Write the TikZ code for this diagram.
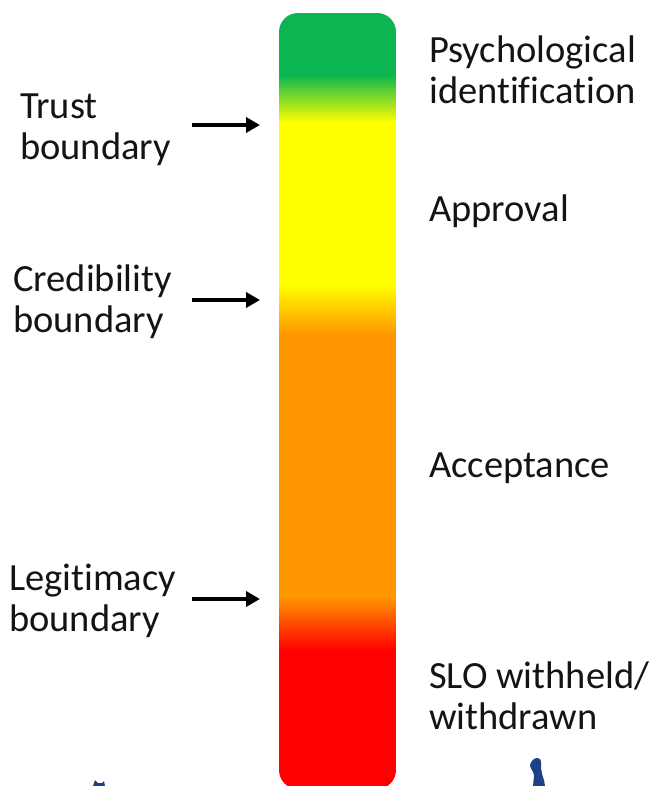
\documentclass[tikz,border=0pt]{standalone}
\usepackage{fontspec}
\setmainfont[Ligatures=NoCommon]{Carlito}
\usetikzlibrary{arrows.meta}
\definecolor{cgreen}{HTML}{0BB650}
\definecolor{cyellow}{HTML}{FFFF00}
\definecolor{corange}{HTML}{FF9600}
\definecolor{cred}{HTML}{FF0000}
\definecolor{cblue}{HTML}{1F3F86}
\tikzset{
  lbl/.style={font=\fontsize{38.5}{41}\selectfont,text=black!92,align=left,anchor=west,inner sep=0pt},
  boundarrow/.style={line width=4pt,-{Triangle[length=14pt,width=15pt]},black},
}
\begin{document}
\begin{tikzpicture}[x=1pt,y=-1pt]
\useasboundingbox (0,0) rectangle (654,786);
\begin{scope}
\clip[rounded corners=19pt] (279,13) rectangle (396,789);
\fill[cgreen] (279,13) rectangle (396,75);
\shade[top color=cgreen,bottom color=cyellow] (279,74.5) rectangle (396,122.5);
\fill[cyellow] (279,122) rectangle (396,285);
\shade[top color=cyellow,bottom color=corange] (279,284.5) rectangle (396,334.5);
\fill[corange] (279,334) rectangle (396,597);
\shade[top color=corange,bottom color=cred] (279,596.5) rectangle (396,650.5);
\fill[cred] (279,650) rectangle (396,789);
\end{scope}
\node[lbl] (pi) at (429,70) {Psychological\\identification};
\node[lbl] (ap) at (429,211) {Approval};
\node[lbl] (ac) at (429,468) {Acceptance};
\node[lbl] (sl) at (429,696) {SLO withheld/\\withdrawn};
\node[lbl] (tb) at (20,130) {Trust\\boundary};
\node[lbl] (cb) at (13,302) {Credibility\\boundary};
\node[lbl] (lb) at (9,601) {Legitimacy\\boundary};
\coordinate (t0) at (192,125);
\coordinate (c0) at (192,300);
\coordinate (l0) at (192,599);
\coordinate (t) at (260,125);
\coordinate (c) at (260,300);
\coordinate (l) at (260,599);
\draw[boundarrow] (t0) -- (t);
\draw[boundarrow] (c0) -- (c);
\draw[boundarrow] (l0) -- (l);
\fill[cblue] (530,765) .. controls (531,761) and (534,758) .. (537,758) .. controls (540,758) and (542,761) .. (541,765) .. controls (541,770) and (542,775) .. (544,780) -- (545,786) -- (533,786) -- (534,776) .. controls (534,771) and (530,769) .. (530,765) -- cycle;
\fill[cblue] (93,786) -- (95,780) -- (98,783) -- (102,783) -- (104,781) -- (105,786) -- cycle;
\end{tikzpicture}
\end{document}
